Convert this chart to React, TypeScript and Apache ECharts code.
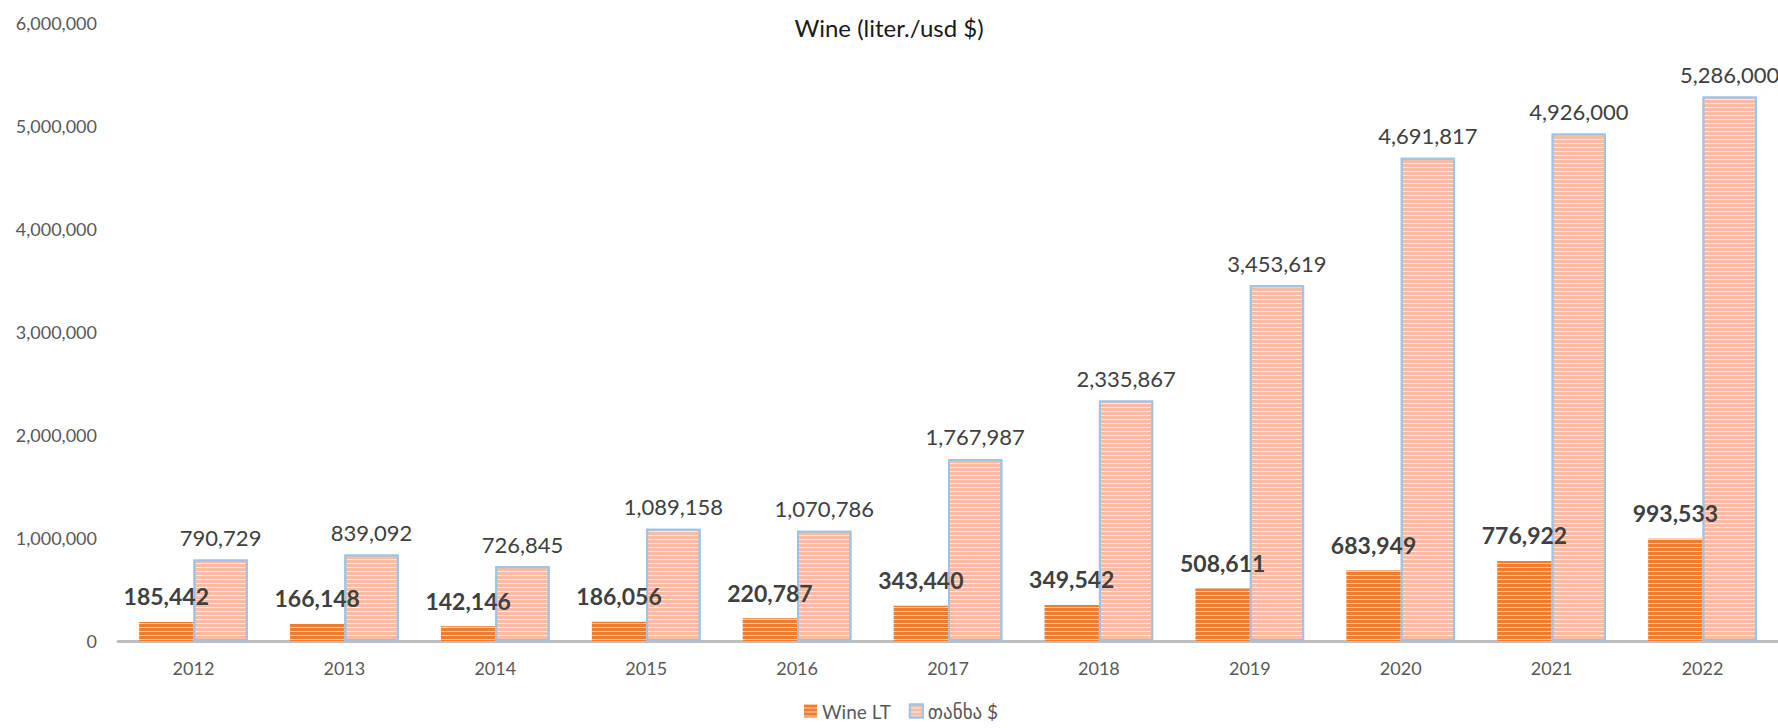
import React, { useEffect, useRef } from "react";
import * as echarts from "echarts";

const years = ["2012", "2013", "2014", "2015", "2016", "2017", "2018", "2019", "2020", "2021", "2022"];
const wineLT = [185442, 166148, 142146, 186056, 220787, 343440, 349542, 508611, 683949, 776922, 993533];
const amountUSD = [790729, 839092, 726845, 1089158, 1070786, 1767987, 2335867, 3453619, 4691817, 4926000, 5286000];
const seriesNames = ["Wine LT", "თანხა $"];
const titleText = "Wine (liter./usd $)";

const FONT = "Lato, 'DejaVu Sans', sans-serif";
const fmt = (v: number) => v.toLocaleString("en-US");

export default function App() {
  const ref = useRef<HTMLDivElement>(null);
  useEffect(() => {
    if (!ref.current) return;
    const chart = echarts.init(ref.current, null, { renderer: "svg" });
    chart.setOption({
      animation: false,
      backgroundColor: "#ffffff",
      title: {
        text: titleText,
        left: "center",
        top: 10,
        textStyle: { fontFamily: FONT, fontSize: 24, fontWeight: "normal", color: "#1a1a1a" },
      },
      legend: {
        data: seriesNames,
        top: 700,
        left: 804,
        padding: 0,
        itemWidth: 13,
        itemHeight: 13,
        itemGap: 18,
        icon: "rect",
        textStyle: { fontFamily: FONT, fontSize: 19, color: "#595959", lineHeight: 22 },
      },
      grid: { left: 118, right: 0, top: 23, bottom: 87, containLabel: false },
      xAxis: {
        type: "category",
        data: years,
        axisLine: { lineStyle: { color: "#BFBFBF", width: 3 } },
        axisTick: { show: false },
        axisLabel: { fontFamily: FONT, fontSize: 18, color: "#595959", margin: 18 },
      },
      yAxis: {
        type: "value",
        min: 0,
        max: 6000000,
        interval: 1000000,
        splitLine: { show: false },
        axisLine: { show: false },
        axisTick: { show: false },
        axisLabel: {
          fontFamily: FONT,
          fontSize: 18,
          color: "#595959",
          margin: 21,
          formatter: (v: number) => fmt(v),
        },
      },
      series: [
        {
          name: seriesNames[0],
          type: "bar",
          data: wineLT,
          barGap: "0%",
          barCategoryGap: "28%",
          itemStyle: {
            color: "#FAD0B0",
            decal: {
              symbol: "rect",
              symbolSize: 1,
              dashArrayX: [1, 0],
              dashArrayY: [3, 1],
              rotation: 0,
              color: "#ED7D31",
            },
          },
          label: {
            show: true,
            position: "top",
            distance: 14,
            formatter: (p: any) => fmt(p.value),
            fontFamily: FONT,
            fontSize: 23,
            fontWeight: "bold",
            color: "#404040",
          },
        },
        {
          name: seriesNames[1],
          type: "bar",
          data: amountUSD,
          barGap: "0%",
          barCategoryGap: "28%",
          itemStyle: {
            color: "#FDEBE1",
            borderColor: "#9DC3E6",
            borderWidth: 2,
            decal: {
              symbol: "rect",
              symbolSize: 1,
              dashArrayX: [1, 0],
              dashArrayY: [3, 1],
              rotation: 0,
              color: "#F7BDA2",
            },
          },
          label: {
            show: true,
            position: "top",
            distance: 11,
            formatter: (p: any) => fmt(p.value),
            fontFamily: FONT,
            fontSize: 22,
            color: "#404040",
          },
        },
      ],
    });
    return () => chart.dispose();
  }, []);
  return <div ref={ref} style={{ position: "fixed", left: 0, top: 0, width: 1778, height: 728 }} />;
}
